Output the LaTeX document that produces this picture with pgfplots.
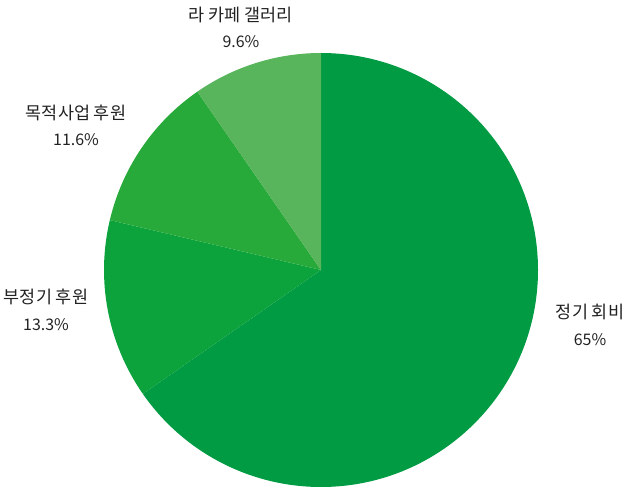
\documentclass[border=0pt]{standalone}
\usepackage{pgfplots}
\usepackage{pgfplotstable}
\pgfplotsset{compat=1.18}
\usepackage{fontspec}
\setmainfont{Noto Sans CJK KR}
\definecolor{s1}{HTML}{009B43}
\definecolor{s2}{HTML}{0CA33D}
\definecolor{s3}{HTML}{28AA3A}
\definecolor{s4}{HTML}{58B55B}
\definecolor{txt}{HTML}{222222}
\pgfplotstableread{
value
65
13.3
11.6
9.6
}\piedata
\pgfplotstablegetelem{0}{value}\of\piedata \let\va\pgfplotsretval
\pgfplotstablegetelem{1}{value}\of\piedata \let\vb\pgfplotsretval
\pgfplotstablegetelem{2}{value}\of\piedata \let\vc\pgfplotsretval
\pgfplotstablegetelem{3}{value}\of\piedata \let\vd\pgfplotsretval
\pgfmathsetmacro\tot{\va+\vb+\vc+\vd}
\pgfmathsetmacro\aa{90}
\pgfmathsetmacro\ab{90-\va/\tot*360}
\pgfmathsetmacro\ac{\ab-\vb/\tot*360}
\pgfmathsetmacro\ad{\ac-\vc/\tot*360}
\pgfmathsetmacro\ae{\ad-\vd/\tot*360}
\newcommand\kor{\fontsize{17.5}{20}\selectfont}
\newcommand\num{\fontsize{16}{18}\selectfont}
\begin{document}%
\begin{tikzpicture}
\begin{axis}[
  hide axis, scale only axis,
  width=628bp, height=497bp,
  xmin=0, xmax=628, ymin=0, ymax=497,
  clip=false,
]
\addplot[draw=none] coordinates {(0,0) (628,497)};
\fill[s1] (axis cs:321,227) -- ++(\aa:217bp) arc[start angle=\aa, end angle=\ab, radius=217bp] -- cycle;
\fill[s2] (axis cs:321,227) -- ++(\ab:217bp) arc[start angle=\ab, end angle=\ac, radius=217bp] -- cycle;
\fill[s3] (axis cs:321,227) -- ++(\ac:217bp) arc[start angle=\ac, end angle=\ad, radius=217bp] -- cycle;
\fill[s4] (axis cs:321,227) -- ++(\ad:217bp) arc[start angle=\ad, end angle=\ae, radius=217bp] -- cycle;
\begin{scope}[every node/.style={text=txt, inner sep=0pt}]
\node[font=\kor] at (axis cs:241,482) {라 카페 갤러리};
\node[font=\num] at (axis cs:241,455) {9.6\%};
\node[font=\kor] at (axis cs:76,384) {목적사업 후원};
\node[font=\num] at (axis cs:76,357) {11.6\%};
\node[font=\kor] at (axis cs:46,200) {부정기 후원};
\node[font=\num] at (axis cs:46,172) {13.3\%};
\node[font=\kor] at (axis cs:590,185) {정기 회비};
\node[font=\num] at (axis cs:590,157) {65\%};
\end{scope}
\end{axis}
\end{tikzpicture}%
\end{document}
